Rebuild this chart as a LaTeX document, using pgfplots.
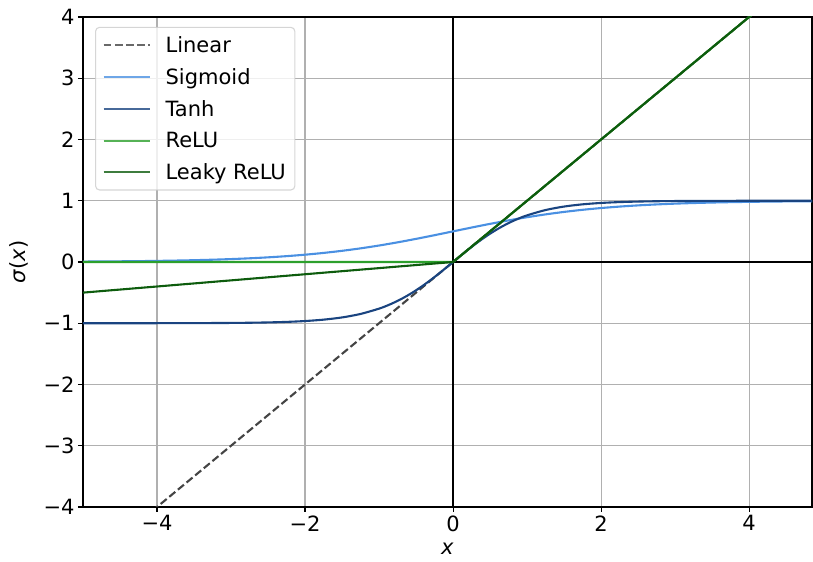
\documentclass[border=0pt]{standalone}
\usepackage{pgfplots}
\pgfplotsset{compat=1.18}
\usepackage{fontspec}
\setmainfont{DejaVu Sans}
\definecolor{linc}{HTML}{444444}
\definecolor{sigc}{HTML}{4A90E2}
\definecolor{tanc}{HTML}{1A4480}
\definecolor{reluc}{HTML}{2CA02C}
\definecolor{leakc}{HTML}{0D5C0D}
\begin{document}
\begin{tikzpicture}
\begin{axis}[
  scale only axis, width=729pt, height=490pt,
  xmin=-5, xmax=4.85, ymin=-4, ymax=4,
  xtick={-4,-2,0,2,4}, xticklabels={−4,−2,0,2,4},
  ytick={-4,-3,-2,-1,0,1,2,3,4}, yticklabels={−4,−3,−2,−1,0,1,2,3,4},
  tick pos=left, tick align=outside, major tick length=5pt,
  every tick/.style={black, line width=1.1pt},
  grid=major, grid style={color=black!31, line width=1.1pt},
  axis line style={line width=1.1pt},
  tick label style={font=\fontsize{21}{25}\selectfont},
  label style={font=\fontsize{21}{25}\selectfont},
  xlabel={\textit{x}}, ylabel={\textit{σ}(\textit{x})},
  xlabel shift=5pt, ylabel shift=8pt,
  legend cell align=left,
  legend style={at={(0.0165,0.98)}, anchor=north west, draw=black!20, line width=1.1pt,
    rounded corners=4pt, fill=white, fill opacity=0.8, text opacity=1, draw opacity=0.8,
    font=\fontsize{21}{25}\selectfont, row sep=10.5pt, inner xsep=7pt, inner ysep=7pt},
  legend image code/.code={\path[draw=none,fill=none] (0pt,0pt) -- (60pt,0pt); \draw[#1] (0pt,0pt) -- (46pt,0pt);},
]
\addplot[black, line width=2pt, forget plot] coordinates {(-5,0) (5,0)};
\addplot[black, line width=2pt, forget plot] coordinates {(0,-4) (0,4)};
\addplot[linc, line width=2.1pt, dash pattern=on 7.8pt off 3.4pt] coordinates {(-5,-5) (5,5)};
\addlegendentry{Linear}
\addplot[sigc, line width=2.1pt, smooth] coordinates {
(-5,0.00669) (-4.75,0.00858) (-4.5,0.01099) (-4.25,0.01406) (-4,0.01799) (-3.75,0.02298)
(-3.5,0.02931) (-3.25,0.03732) (-3,0.04743) (-2.75,0.06009) (-2.5,0.07586) (-2.25,0.09535)
(-2,0.11920) (-1.75,0.14805) (-1.5,0.18243) (-1.25,0.22270) (-1,0.26894) (-0.75,0.32082)
(-0.5,0.37754) (-0.25,0.43782) (0,0.5) (0.25,0.56218) (0.5,0.62246) (0.75,0.67918)
(1,0.73106) (1.25,0.77730) (1.5,0.81757) (1.75,0.85195) (2,0.88080) (2.25,0.90465)
(2.5,0.92414) (2.75,0.93991) (3,0.95257) (3.25,0.96268) (3.5,0.97069) (3.75,0.97702)
(4,0.98201) (4.25,0.98594) (4.5,0.98901) (4.75,0.99142) (5,0.99331)};
\addlegendentry{Sigmoid}
\addplot[tanc, line width=2.1pt, smooth] coordinates {
(-5,-0.99991) (-4.5,-0.99975) (-4,-0.99933) (-3.5,-0.99818) (-3,-0.99505) (-2.75,-0.99186)
(-2.5,-0.98661) (-2.25,-0.97803) (-2,-0.96403) (-1.75,-0.94138) (-1.5,-0.90515) (-1.25,-0.84828)
(-1,-0.76159) (-0.875,-0.70400) (-0.75,-0.63515) (-0.625,-0.55459) (-0.5,-0.46212)
(-0.375,-0.35835) (-0.25,-0.24492) (-0.125,-0.12435) (0,0) (0.125,0.12435) (0.25,0.24492)
(0.375,0.35835) (0.5,0.46212) (0.625,0.55459) (0.75,0.63515) (0.875,0.70400) (1,0.76159)
(1.25,0.84828) (1.5,0.90515) (1.75,0.94138) (2,0.96403) (2.25,0.97803) (2.5,0.98661)
(2.75,0.99186) (3,0.99505) (3.5,0.99818) (4,0.99933) (4.5,0.99975) (5,0.99991)};
\addlegendentry{Tanh}
\addplot[reluc, line width=2.1pt] coordinates {(-5,0) (0,0) (5,5)};
\addlegendentry{ReLU}
\addplot[leakc, line width=2.1pt] coordinates {(-5,-0.5) (0,0) (5,5)};
\addlegendentry{Leaky ReLU\rule[-14pt]{0pt}{1pt}}
\end{axis}
\pgfresetboundingbox
\path ([shift={(-83pt,-55pt)}]current axis.south west) rectangle ([shift={(1pt,17pt)}]current axis.north east);
\end{tikzpicture}
\end{document}
